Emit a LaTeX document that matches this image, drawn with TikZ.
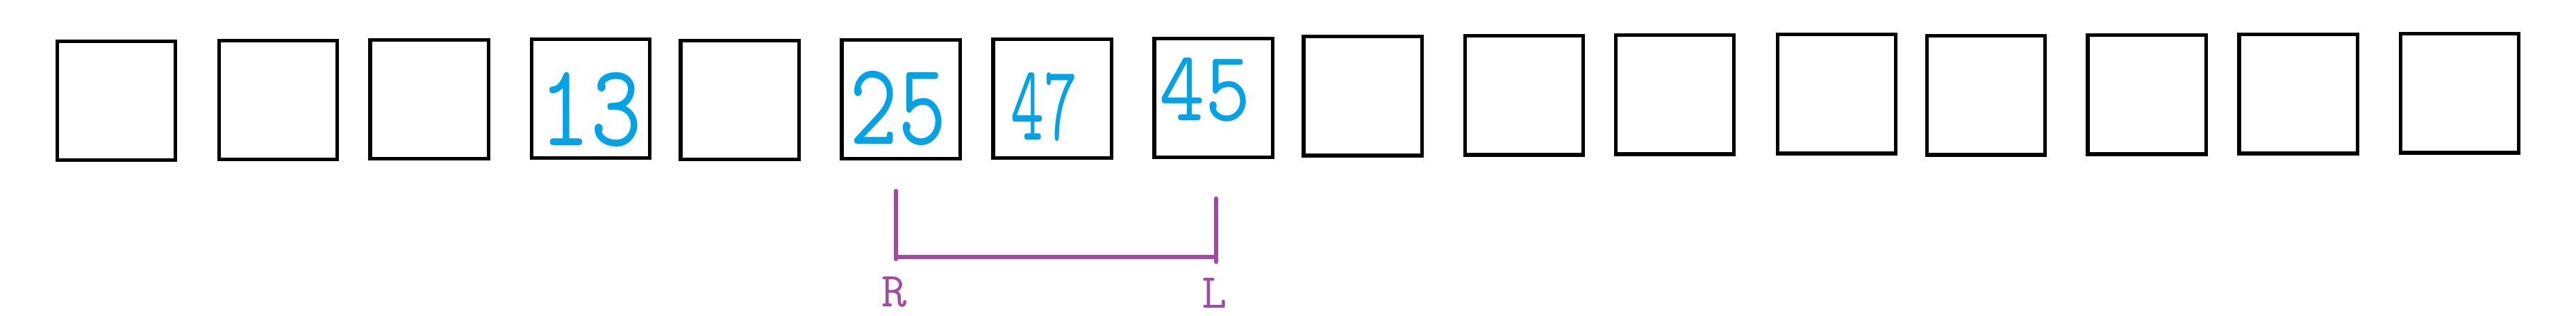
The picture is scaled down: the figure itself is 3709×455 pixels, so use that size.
\documentclass[tikz,border=0pt]{standalone}
\usepackage{fontspec}
\definecolor{inkblue}{RGB}{0,162,232}
\definecolor{inkpurple}{RGB}{163,73,164}
\tikzset{
  cell/.style={draw=black, line width=1.45pt, minimum width=1.70cm, minimum height=1.71cm, inner sep=0pt},
  digits/.style={text=inkblue, anchor=north, inner sep=0pt, font=\ttfamily\fontsize{48}{50}\selectfont},
  ptr/.style={text=inkpurple, anchor=north, inner sep=0pt, font=\ttfamily\fontsize{20}{22}\selectfont},
  bar/.style={draw=inkpurple, line width=1.75pt, line cap=round}
}
\begin{document}
\begin{tikzpicture}[x=0.01cm, y=-0.01cm]
\useasboundingbox (0,0) rectangle (3709,455);
% cells
\node[cell] (b1)  at (167.5,145) {};
\node[cell] (b2)  at (400.5,144) {};
\node[cell] (b3)  at (618,143) {};
\node[cell] (b4)  at (850.5,142) {};
\node[cell] (b5)  at (1065,144) {};
\node[cell] (b6)  at (1297,143) {};
\node[cell] (b7)  at (1515,142) {};
\node[cell] (b8)  at (1747,141) {};
\node[cell] (b9)  at (1962,138.5) {};
\node[cell] (b10) at (2194.5,137.5) {};
\node[cell] (b11) at (2411.5,136.5) {};
\node[cell] (b12) at (2644.5,135.5) {};
\node[cell] (b13) at (2859.5,137.5) {};
\node[cell] (b14) at (3091,136.5) {};
\node[cell] (b15) at (3309,135.5) {};
\node[cell] (b16) at (3541.5,134.5) {};
% values
\node[digits] (v4) at (850.5,104) {\scalebox{0.85}[1]{13}};
\node[digits] (v6) at (1293,102) {\scalebox{0.8}[1]{25}};
\node[digits, font=\ttfamily\fontsize{44}{46}\selectfont] (v7) at (1503,104) {\scalebox{0.6}[1]{47}};
\node[digits, font=\ttfamily\fontsize{41}{43}\selectfont] (v8) at (1735,83) {\scalebox{0.88}[1]{45}};
% window bracket
\coordinate (rtop) at (1290,275);
\coordinate (rbot) at (1290,373);
\coordinate (rcorner) at (1290,370);
\coordinate (lcorner) at (1751,370);
\coordinate (ltop) at (1751,286);
\coordinate (lbot) at (1751,377);
\draw[bar] (rtop) -- (rbot);
\draw[bar] (rcorner) -- (lcorner);
\draw[bar] (ltop) -- (lbot);
% labels
\node[ptr] (R) at (1288,398) {R};
\node[ptr] (L) at (1749,400) {L};
\end{tikzpicture}
\end{document}
